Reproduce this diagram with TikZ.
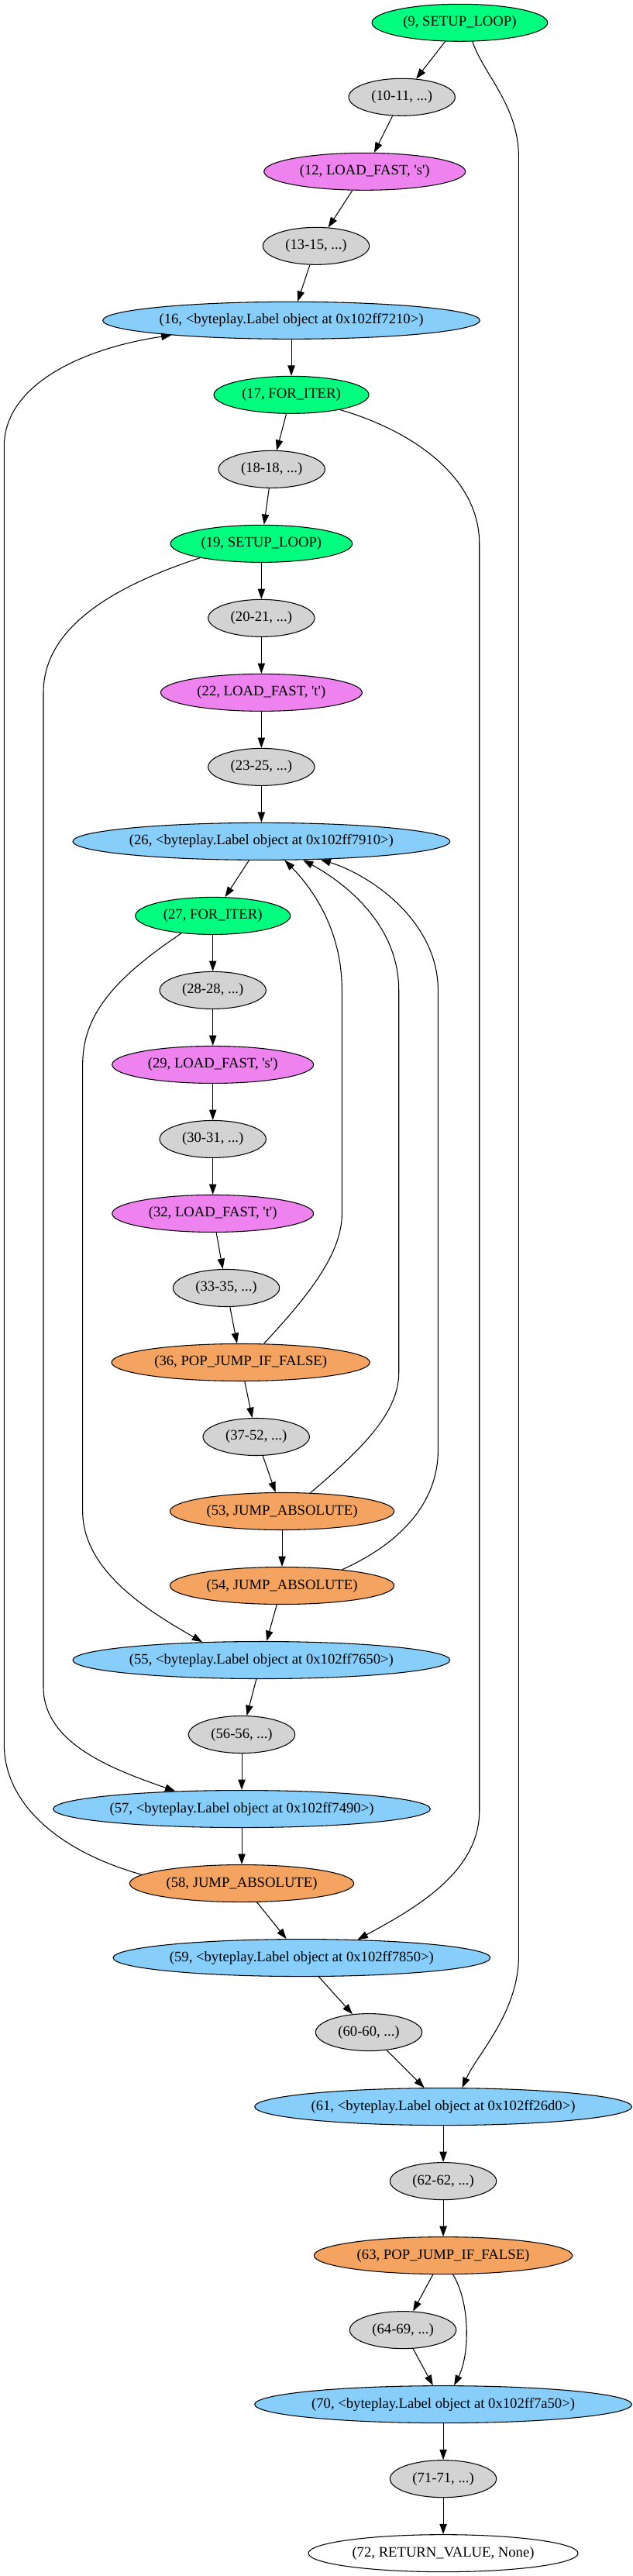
\documentclass[tikz,border=0pt]{standalone}
\usepackage{fontspec}
\setmainfont{Liberation Serif}
\usepackage{xcolor}
\usetikzlibrary{arrows.meta,shapes.geometric}
\definecolor{sgreen}{HTML}{00FF7F}
\definecolor{vio}{HTML}{EE82EE}
\definecolor{lgray}{HTML}{D3D3D3}
\definecolor{lsky}{HTML}{87CEFA}
\definecolor{sbrown}{HTML}{F4A460}
\tikzset{
  op/.style={ellipse,draw,line width=0.8pt,inner xsep=-4pt,inner ysep=0pt,minimum height=36pt,font=\fontsize{14}{16}\selectfont},
  grn/.style={op,fill=sgreen,minimum width=#1},
  ldf/.style={op,fill=vio,minimum width=195pt},
  blk/.style={op,fill=lgray,minimum width=103pt},
  lbl/.style={op,fill=lsky,minimum width=365pt},
  jmp/.style={op,fill=sbrown,minimum width=#1},
  ret/.style={op,fill=white,minimum width=261pt},
  ed/.style={line width=0.8pt,-{Triangle[length=10pt,width=7pt]}}
}
\newcommand{\sq}[1]{\textquotesingle#1\textquotesingle}

\begin{document}
\begin{tikzpicture}[x=1pt,y=1pt]
\useasboundingbox (0,0) rectangle (612,2492);
\node[grn=170pt] (n9) at (445,2470) {(9, SETUP\_LOOP)};
\node[blk] (n10) at (389,2398) {(10-11, ...)};
\node[ldf] (n12) at (353,2326) {(12, LOAD\_FAST, \sq{s})};
\node[blk] (n13) at (306,2254) {(13-15, ...)};
\node[lbl] (n16) at (282,2182) {(16, \textless byteplay.Label object at 0x102ff7210\textgreater)};
\node[grn=150pt] (n17) at (282,2110) {(17, FOR\_ITER)};
\node[blk] (n18) at (263,2038) {(18-18, ...)};
\node[grn=176pt] (n19) at (253,1966) {(19, SETUP\_LOOP)};
\node[blk] (n20) at (253,1894) {(20-21, ...)};
\node[ldf] (n22) at (253,1822) {(22, LOAD\_FAST, \sq{t})};
\node[blk] (n23) at (253,1750) {(23-25, ...)};
\node[lbl] (n26) at (253,1678) {(26, \textless byteplay.Label object at 0x102ff7910\textgreater)};
\node[grn=150pt] (n27) at (206,1606) {(27, FOR\_ITER)};
\node[blk] (n28) at (206,1534) {(28-28, ...)};
\node[ldf] (n29) at (206,1462) {(29, LOAD\_FAST, \sq{s})};
\node[blk] (n30) at (206,1390) {(30-31, ...)};
\node[ldf] (n32) at (206,1318) {(32, LOAD\_FAST, \sq{t})};
\node[blk] (n33) at (219,1246) {(33-35, ...)};
\node[jmp=250pt] (n36) at (233,1174) {(36, POP\_JUMP\_IF\_FALSE)};
\node[blk] (n37) at (248,1102) {(37-52, ...)};
\node[jmp=217pt] (n53) at (273,1030) {(53, JUMP\_ABSOLUTE)};
\node[jmp=217pt] (n54) at (273,958) {(54, JUMP\_ABSOLUTE)};
\node[lbl] (n55) at (253,886) {(55, \textless byteplay.Label object at 0x102ff7650\textgreater)};
\node[blk] (n56) at (234,814) {(56-56, ...)};
\node[lbl] (n57) at (234,742) {(57, \textless byteplay.Label object at 0x102ff7490\textgreater)};
\node[jmp=217pt] (n58) at (234,670) {(58, JUMP\_ABSOLUTE)};
\node[lbl] (n59) at (292,598) {(59, \textless byteplay.Label object at 0x102ff7850\textgreater)};
\node[blk] (n60) at (357,526) {(60-60, ...)};
\node[lbl] (n61) at (429,454) {(61, \textless byteplay.Label object at 0x102ff26d0\textgreater)};
\node[blk] (n62) at (429,382) {(62-62, ...)};
\node[jmp=250pt] (n63) at (429,310) {(63, POP\_JUMP\_IF\_FALSE)};
\node[blk] (n64) at (390,238) {(64-69, ...)};
\node[lbl] (n70) at (429,166) {(70, \textless byteplay.Label object at 0x102ff7a50\textgreater)};
\node[blk] (n71) at (429,94) {(71-71, ...)};
\node[ret] (n72) at (429,22) {(72, RETURN\_VALUE, None)};
% straight edges
\foreach \a/\b in {n9/n10,n10/n12,n12/n13,n13/n16,n16/n17,n17/n18,n18/n19,n19/n20,n20/n22,n22/n23,n23/n26,n26/n27,n27/n28,n28/n29,n29/n30,n30/n32,n32/n33,n33/n36,n36/n37,n37/n53,n53/n54,n54/n55,n55/n56,n56/n57,n57/n58,n58/n59,n59/n60,n60/n61,n61/n62,n62/n63,n63/n64,n64/n70,n70/n71,n71/n72}
  \draw[ed] (\a) -- (\b);
% long jumps
\draw[ed] (n9.-56) .. controls (468,2420) and (502,2390) .. (502,2340) -- (502,600) .. controls (502,545) and (462,505) .. (n61.45);
\draw[ed] (n17.-17) .. controls (400,2075) and (464,2030) .. (464,1966) -- (464,740) .. controls (464,680) and (400,645) .. (n59.18);
\draw[ed] (n19.-167) .. controls (110,1925) and (42,1885) .. (42,1822) -- (42,860) .. controls (42,805) and (110,780) .. (n57.165);
\draw[ed] (n27.-151) .. controls (110,1545) and (80,1510) .. (80,1462) -- (80,1030) .. controls (80,970) and (150,930) .. (n55.163);
\draw[ed] (n58.175) .. controls (60,700) and (4,745) .. (4,805) -- (4,2060) .. controls (4,2120) and (80,2155) .. (n16.187);
% back to 26
\draw[ed] (n36.39) .. controls (300,1240) and (331,1280) .. (331,1318) -- (331,1534) .. controls (331,1595) and (300,1635) .. (n26.-39);
\draw[ed] (n53.33) .. controls (350,1090) and (386,1125) .. (386,1164) -- (386,1534) .. controls (386,1600) and (330,1640) .. (n26.-24);
\draw[ed] (n54.15) .. controls (390,1000) and (424,1040) .. (424,1089) -- (424,1534) .. controls (424,1600) and (360,1645) .. (n26.-17);
\draw[ed] (n63.-63) .. controls (455,265) and (455,215) .. (n70.60);
\end{tikzpicture}
\end{document}
